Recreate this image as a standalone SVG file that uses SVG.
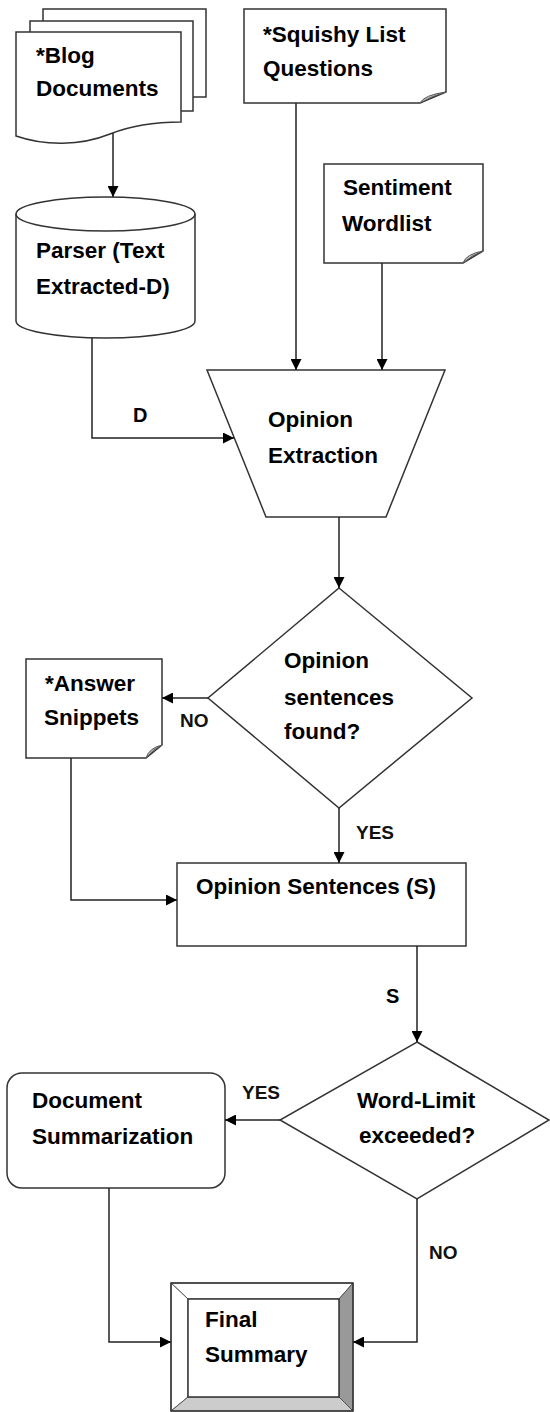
<svg xmlns="http://www.w3.org/2000/svg" width="550" height="1412" viewBox="0 0 550 1412">
<style>
.shape{fill:#fff;stroke:#333;stroke-width:1.5}
.fold{fill:#bbb;stroke:#555;stroke-width:1}
.t{font-family:"Liberation Sans",Arial,sans-serif;font-weight:bold;font-size:22.5px;fill:#000}
.lb{font-family:"Liberation Sans",Arial,sans-serif;font-weight:bold;font-size:19px;fill:#111}
.lbb{font-family:"Liberation Sans",Arial,sans-serif;font-weight:bold;font-size:20px;fill:#000}
.c{fill:none;stroke:#222;stroke-width:1.5}
</style>
<defs>
<marker id="ah" viewBox="0 0 10 10" refX="10" refY="5" markerWidth="12" markerHeight="11" markerUnits="userSpaceOnUse" orient="auto">
<path d="M0,0 L10,5 L0,10 Z" fill="#000"/>
</marker>
</defs>
<rect width="550" height="1412" fill="#fff"/>

<g id="blog-documents">
<rect class="shape" x="43" y="9" width="163" height="88"/>
<rect class="shape" x="30" y="21" width="163" height="90"/>
<path class="shape" d="M16,32 H181 V122 C150,122 130,126 110,134 C80,146 45,146 16,136 Z"/>
<text class="t" x="36" y="63">*Blog</text>
<text class="t" x="36" y="96">Documents</text>
</g>

<g id="squishy-list-questions">
<path class="shape" d="M244,9 H446 V92 L420,103 H244 Z"/>
<path class="fold" d="M420,103 Q424,95 446,92 Q432,96 420,103 Z"/>
<text class="t" x="263" y="42">*Squishy List</text>
<text class="t" x="263" y="76">Questions</text>
</g>

<g id="sentiment-wordlist">
<path class="shape" d="M324,164 H483 V251 L463,263 H324 Z"/>
<path class="fold" d="M463,263 Q466,254 483,251 Q472,255 463,263 Z"/>
<text class="t" x="343" y="195">Sentiment</text>
<text class="t" x="342" y="231">Wordlist</text>
</g>

<g id="parser">
<path class="shape" d="M16,214 V321 A89.5,17 0 0 0 195,321 V214 A89.5,17 0 0 0 16,214 Z"/>
<path class="shape" style="fill:none" d="M16,214 A89.5,17 0 0 0 195,214"/>
<text class="t" x="36" y="258">Parser (Text</text>
<text class="t" x="36" y="294">Extracted-D)</text>
</g>

<g id="opinion-extraction">
<polygon class="shape" points="207,370 445,370 386,517 266,517"/>
<text class="t" x="268" y="427">Opinion</text>
<text class="t" x="268" y="463">Extraction</text>
</g>

<g id="opinion-found">
<polygon class="shape" points="339,588 472,698 339,808 208,698"/>
<text class="t" x="284" y="668">Opinion</text>
<text class="t" x="284" y="705">sentences</text>
<text class="t" x="284" y="739">found?</text>
</g>

<g id="answer-snippets">
<path class="shape" d="M26,659 H162 V745 L146,758 H26 Z"/>
<path class="fold" d="M146,758 Q149,748 162,745 Q153,749 146,758 Z"/>
<text class="t" x="45" y="691">*Answer</text>
<text class="t" x="44" y="725">Snippets</text>
</g>

<g id="opinion-sentences">
<rect class="shape" x="177" y="863" width="289" height="83"/>
<text class="t" x="196" y="894">Opinion Sentences (S)</text>
</g>

<g id="word-limit">
<polygon class="shape" points="417,1042 549,1120 417,1199 280,1120"/>
<text class="t" x="357" y="1108">Word-Limit</text>
<text class="t" x="359" y="1143">exceeded?</text>
</g>

<g id="document-summarization">
<rect class="shape" x="7" y="1073" width="218" height="115" rx="15" ry="15"/>
<text class="t" x="32" y="1108">Document</text>
<text class="t" x="32" y="1144">Summarization</text>
</g>

<g id="final-summary">
<polygon points="171,1283 353,1283 339,1299 188,1299" fill="#fff" stroke="#555" stroke-width="1"/>
<polygon points="171,1283 188,1299 188,1397 171,1411" fill="#fff" stroke="#555" stroke-width="1"/>
<polygon points="353,1283 353,1411 339,1397 339,1299" fill="#999" stroke="#555" stroke-width="1"/>
<polygon points="171,1411 353,1411 339,1397 188,1397" fill="#ccc" stroke="#555" stroke-width="1"/>
<rect x="188" y="1299" width="151" height="98" fill="#fff" stroke="#333" stroke-width="1.5"/>
<rect x="171" y="1283" width="182" height="128" fill="none" stroke="#333" stroke-width="1.5"/>
<text class="t" x="205" y="1327">Final</text>
<text class="t" x="205" y="1362">Summary</text>
</g>

<g id="connectors">
<path class="c" d="M113,133 V197" marker-end="url(#ah)"/>
<path class="c" d="M296,103 V370" marker-end="url(#ah)"/>
<path class="c" d="M382,263 V370" marker-end="url(#ah)"/>
<path class="c" d="M92,338 V438 H234" marker-end="url(#ah)"/>
<path class="c" d="M339,517 V588" marker-end="url(#ah)"/>
<path class="c" d="M208,698 H162" marker-end="url(#ah)"/>
<path class="c" d="M339,808 V863" marker-end="url(#ah)"/>
<path class="c" d="M71,758 V900 H177" marker-end="url(#ah)"/>
<path class="c" d="M417,946 V1042" marker-end="url(#ah)"/>
<path class="c" d="M280,1120 H225" marker-end="url(#ah)"/>
<path class="c" d="M417,1199 V1342 H353" marker-end="url(#ah)"/>
<path class="c" d="M109,1188 V1342 H171" marker-end="url(#ah)"/>
<text class="lbb" x="133" y="422">D</text>
<text class="lb" x="180" y="727">NO</text>
<text class="lb" x="356" y="839">YES</text>
<text class="lbb" x="386" y="1003">S</text>
<text class="lb" x="242" y="1099">YES</text>
<text class="lb" x="429" y="1259">NO</text>
</g>
</svg>
